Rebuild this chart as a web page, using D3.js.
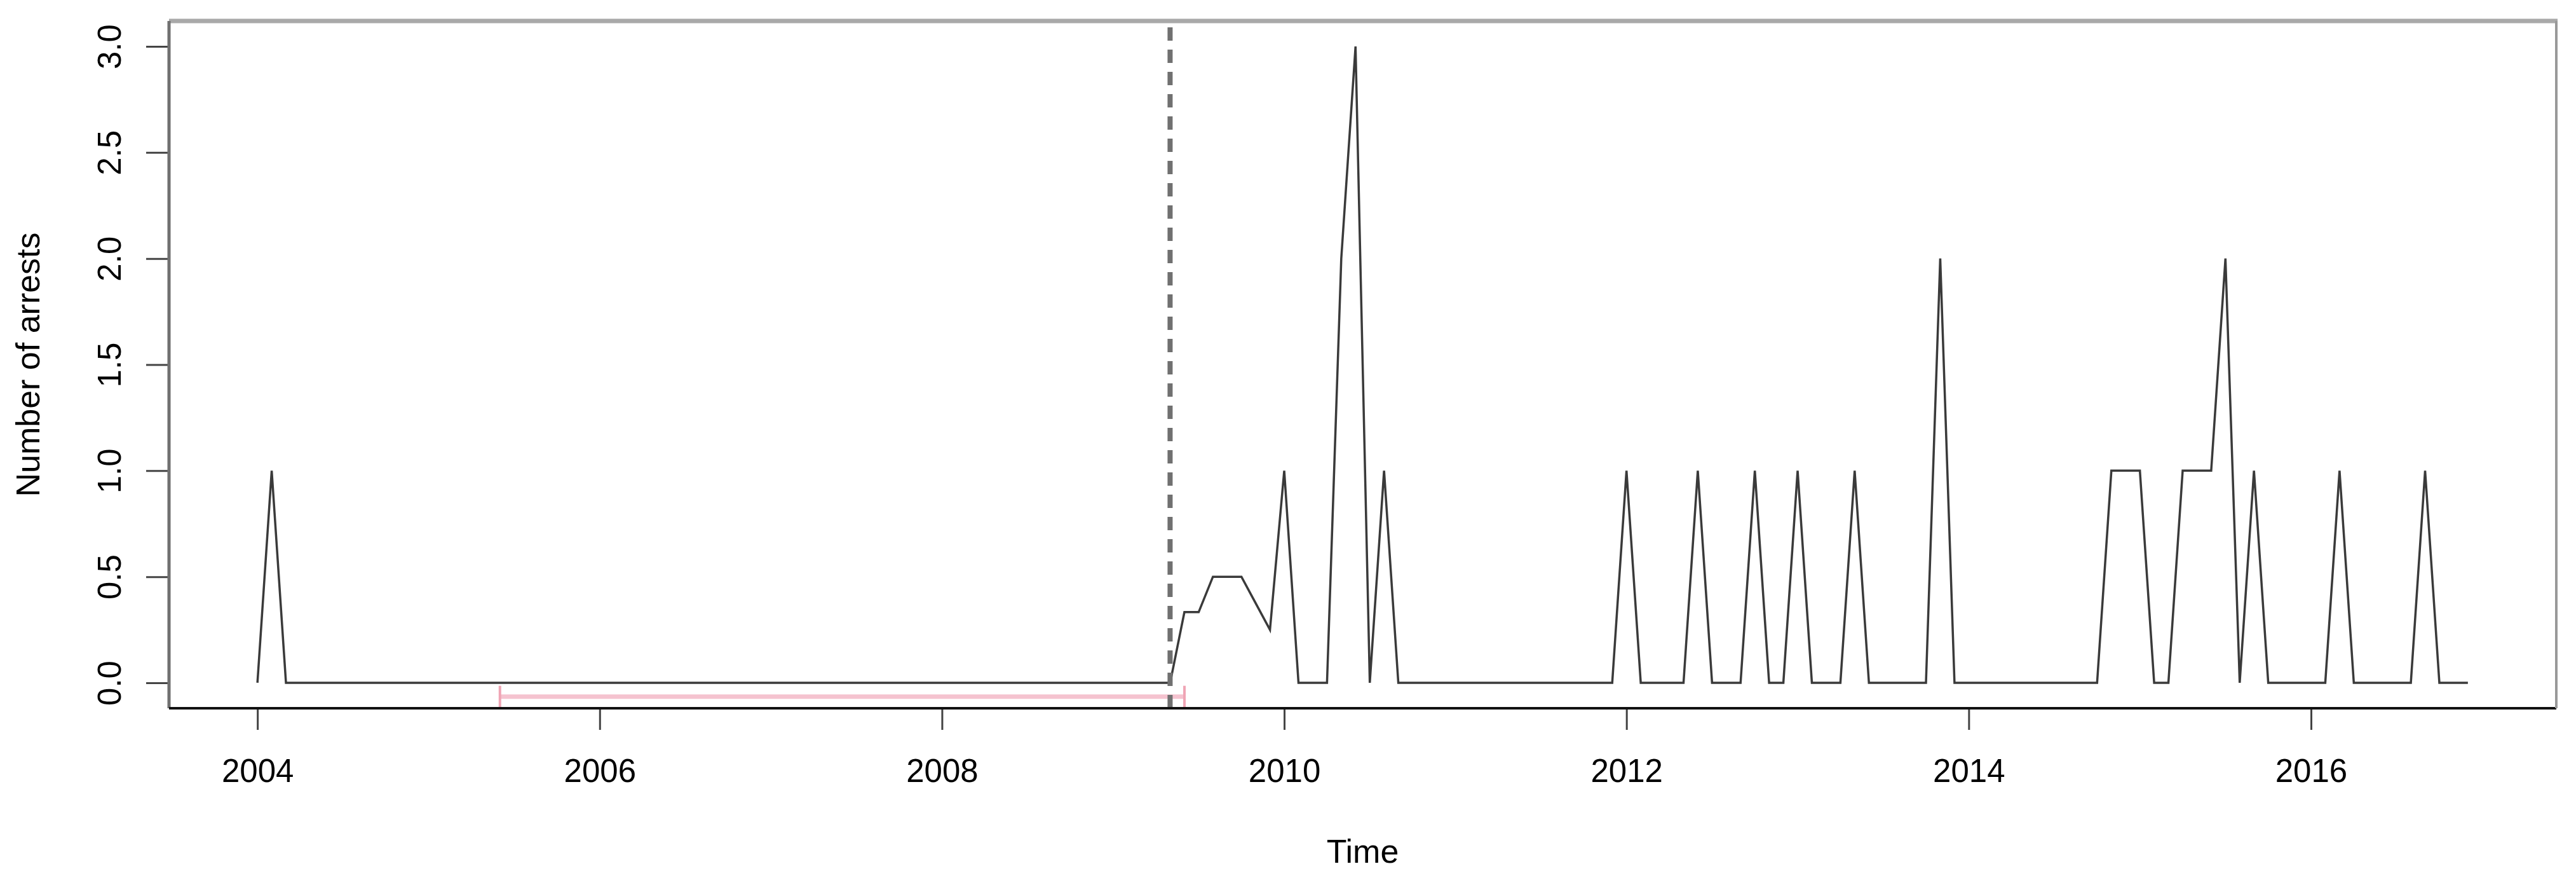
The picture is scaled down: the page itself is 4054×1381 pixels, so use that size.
<!DOCTYPE html>
<html>
<head>
<meta charset="utf-8">
<script src="https://cdn.jsdelivr.net/npm/d3@7"></script>
<style>
  html, body { margin: 0; padding: 0; background: #ffffff; }
  svg { display: block; }
  text { font-family: "Liberation Sans", Arial, Helvetica, sans-serif; }
</style>
</head>
<body>
<svg id="chart" width="4054" height="1381"></svg>
<script>
// ---- data ----
const startYear = 2004;            // first month: January 2004, monthly series
const arrests = [
  // 2004
  0, 1, 0, 0, 0, 0, 0, 0, 0, 0, 0, 0,
  // 2005
  0, 0, 0, 0, 0, 0, 0, 0, 0, 0, 0, 0,
  // 2006
  0, 0, 0, 0, 0, 0, 0, 0, 0, 0, 0, 0,
  // 2007
  0, 0, 0, 0, 0, 0, 0, 0, 0, 0, 0, 0,
  // 2008
  0, 0, 0, 0, 0, 0, 0, 0, 0, 0, 0, 0,
  // 2009
  0, 0, 0, 0, 0, 0.333, 0.333, 0.5, 0.5, 0.5, 0.375, 0.25,
  // 2010
  1, 0, 0, 0, 2, 3, 0, 1, 0, 0, 0, 0,
  // 2011
  0, 0, 0, 0, 0, 0, 0, 0, 0, 0, 0, 0,
  // 2012
  1, 0, 0, 0, 0, 1, 0, 0, 0, 1, 0, 0,
  // 2013
  1, 0, 0, 0, 1, 0, 0, 0, 0, 0, 2, 0,
  // 2014
  0, 0, 0, 0, 0, 0, 0, 0, 0, 0, 1, 1,
  // 2015
  1, 0, 0, 1, 1, 1, 2, 0, 1, 0, 0, 0,
  // 2016
  0, 0, 1, 0, 0, 0, 0, 0, 1, 0, 0, 0
];
const interventionTime = 2009.333;          // vertical dashed line
const intervalStart = 2005.417;             // pink interval
const intervalEnd = 2009.417;
const intervalLevel = -0.065;
const xTicks = [2004, 2006, 2008, 2010, 2012, 2014, 2016];
const yTicks = [0, 0.5, 1, 1.5, 2, 2.5, 3];
const xTitle = "Time";
const yTitle = "Number of arrests";

// ---- layout ----
const plot = { left: 266, right: 4023, top: 33, bottom: 1114 };
const svg = d3.select("#chart");
svg.append("rect").attr("width", 4054).attr("height", 1381).attr("fill", "#ffffff");

const times = arrests.map((v, i) => startYear + i / 12);
const tMin = d3.min(times), tMax = d3.max(times);
const tPad = (tMax - tMin) * 0.04;
const x = d3.scaleLinear().domain([tMin - tPad, tMax + tPad]).range([plot.left, plot.right]);
const yPad = 3 * 0.04;
const y = d3.scaleLinear().domain([0 - yPad, 3 + yPad]).range([plot.bottom, plot.top]);

// ---- clip ----
svg.append("clipPath").attr("id", "clip")
  .append("rect").attr("x", plot.left).attr("y", plot.top)
  .attr("width", plot.right - plot.left).attr("height", plot.bottom - plot.top);

// ---- pink interval ----
const iv = svg.append("g");
iv.append("line")
  .attr("x1", x(intervalStart)).attr("x2", x(intervalEnd))
  .attr("y1", y(intervalLevel)).attr("y2", y(intervalLevel))
  .attr("stroke", "#f5c3cf").attr("stroke-width", 7);
[intervalStart, intervalEnd].forEach(t => {
  iv.append("line")
    .attr("x1", x(t)).attr("x2", x(t))
    .attr("y1", y(intervalLevel) - 17).attr("y2", y(intervalLevel) + 17)
    .attr("stroke", "#f0a5b5").attr("stroke-width", 4);
});

// ---- series line ----
const line = d3.line().x((d, i) => x(times[i])).y(d => y(d));
svg.append("path")
  .datum(arrests)
  .attr("d", line)
  .attr("fill", "none")
  .attr("stroke", "#3a3a3a")
  .attr("stroke-width", 3.5)
  .attr("stroke-linejoin", "miter");

// ---- dashed vertical line ----
svg.append("line")
  .attr("clip-path", "url(#clip)")
  .attr("x1", x(interventionTime)).attr("x2", x(interventionTime))
  .attr("y1", plot.bottom).attr("y2", plot.top)
  .attr("stroke", "#707070").attr("stroke-width", 8)
  .attr("stroke-dasharray", "21,14");

// ---- axes ----
const xAxis = svg.append("g")
  .attr("transform", `translate(0,${plot.bottom})`)
  .call(d3.axisBottom(x).tickValues(xTicks).tickFormat(d3.format("d")).tickSize(34));
xAxis.select(".domain").remove();
xAxis.selectAll(".tick line").attr("stroke", "#444").attr("stroke-width", 3);
xAxis.selectAll(".tick text")
  .attr("y", 116).attr("dy", 0)
  .attr("font-size", 51).attr("fill", "#000")
  .attr("font-family", "Liberation Sans, Arial, sans-serif");

const yAxis = svg.append("g")
  .attr("transform", `translate(${plot.left},0)`)
  .call(d3.axisLeft(y).tickValues(yTicks).tickFormat(d3.format(".1f")).tickSize(36));
yAxis.select(".domain").remove();
yAxis.selectAll(".tick line").attr("stroke", "#444").attr("stroke-width", 3);
yAxis.selectAll(".tick text")
  .attr("x", 0).attr("dy", 0)
  .attr("text-anchor", "middle")
  .attr("transform", "translate(-76,0) rotate(-90)")
  .attr("font-size", 51).attr("fill", "#000")
  .attr("font-family", "Liberation Sans, Arial, sans-serif");

// ---- frame ----
const frame = svg.append("g");
frame.append("line").attr("x1", plot.left).attr("x2", plot.right + 2)
  .attr("y1", plot.top).attr("y2", plot.top).attr("stroke", "#a9a9a9").attr("stroke-width", 7);
frame.append("line").attr("x1", plot.left).attr("x2", plot.left)
  .attr("y1", plot.top).attr("y2", plot.bottom).attr("stroke", "#707070").attr("stroke-width", 5);
frame.append("line").attr("x1", plot.left).attr("x2", plot.right)
  .attr("y1", plot.bottom).attr("y2", plot.bottom).attr("stroke", "#111").attr("stroke-width", 4);
frame.append("line").attr("x1", plot.right).attr("x2", plot.right)
  .attr("y1", plot.top).attr("y2", plot.bottom).attr("stroke", "#999").attr("stroke-width", 4);

// ---- titles ----
svg.append("text")
  .attr("x", (plot.left + plot.right) / 2).attr("y", 1357)
  .attr("text-anchor", "middle").attr("font-size", 52).attr("fill", "#000")
  .text(xTitle);
svg.append("text")
  .attr("transform", `translate(62,${(plot.top + plot.bottom) / 2}) rotate(-90)`)
  .attr("text-anchor", "middle").attr("font-size", 52).attr("fill", "#000")
  .text(yTitle);
</script>
</body>
</html>
